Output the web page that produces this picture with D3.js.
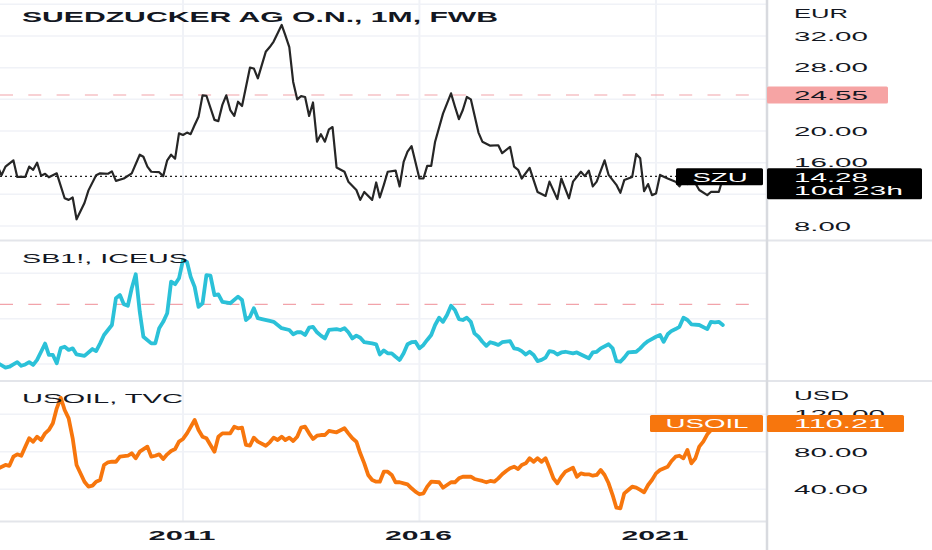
<!DOCTYPE html>
<html>
<head>
<meta charset="utf-8">
<script src="https://cdn.jsdelivr.net/npm/d3@7"></script>
<style>
  body { margin: 0; background: #fff; }
  svg { display: block; }
  text { font-family: "Liberation Sans", Arial, sans-serif; fill: #131722; }
</style>
</head>
<body>
<svg id="chart" width="932" height="550"></svg>
<script>
// months are counted from Jan 2007 (0 = 2007-01)
var startMonth = new Date(2007, 0, 1)
var yearTicks = [2011, 2016, 2021]

// SZU monthly close, EUR  [month, value]
var szuData = [[0,14.8],[1,15.5],[2,14.4],[3,15.5],[5,16.3],[6,14.2],[8,14.2],[9,15.5],[10,15.1],[11,16.0],[12,14.35],[13,14.6],[14,14.15],[16,14.65],[18,11.5],[19,11.3],[20,11.6],[21,8.85],[23,10.9],[24,12.5],[26,14.4],[27,14.65],[29,14.6],[30,14.9],[31,13.7],[33,14.0],[35,14.65],[37,17.0],[38,16.75],[39,15.5],[40,14.85],[42,14.8],[43,14.3],[44,16.3],[45,17.0],[46,16.5],[47,19.7],[48,19.5],[49,19.8],[50,19.6],[51,20.75],[52,21.8],[53,24.5],[54,24.45],[56,21.4],[57,21.25],[58,23.3],[59,24.5],[60,22.65],[61,21.9],[62,23.7],[63,23.15],[65,28.0],[66,27.9],[67,26.65],[69,30.0],[70,30.6],[71,31.3],[73,33.4],[74,32.1],[75,30.6],[76,26.2],[77,24.0],[78,24.4],[79,24.3],[80,21.9],[81,23.6],[82,18.65],[83,19.6],[84,18.65],[85,20.2],[86,20.5],[87,15.4],[89,14.85],[90,13.6],[92,12.55],[93,11.3],[94,12.3],[96,11.3],[97,13.5],[98,11.6],[99,13.2],[100,14.85],[102,15.0],[103,13.0],[104,16.1],[105,17.4],[106,18.1],[108,14.0],[109,14.0],[110,15.6],[111,15.6],[112,18.65],[114,22.2],[116,24.75],[117,23.1],[118,21.5],[119,22.65],[120,24.3],[121,24.0],[123,19.8],[124,18.65],[126,18.15],[128,18.2],[129,17.2],[131,18.0],[132,15.5],[133,15.1],[134,14.0],[136,15.35],[137,13.8],[138,12.3],[140,11.8],[141,13.6],[143,11.4],[144,14.0],[146,11.5],[147,13.6],[149,14.85],[150,14.3],[151,15.0],[152,13.0],[153,13.6],[155,16.3],[156,14.45],[158,13.2],[159,12.2],[160,13.8],[162,14.2],[163,17.1],[164,16.55],[165,12.4],[166,13.3],[167,11.9],[168,12.1],[169,14.45],[171,14.0],[173,13.6],[174,13.0],[175,13.8],[176,13.3],[177,14.0],[178,13.4],[179,12.55],[181,11.9],[182,12.3],[184,12.3],[185,14.0]]

// SB1! sugar futures, US cents/lb
var sb1Data = [[0,10.5],[1,10.2],[3,9.2],[4,9.4],[5,9.9],[6,10.4],[7,9.6],[8,9.9],[9,10.4],[10,9.8],[11,10.9],[12,12.7],[13,14.5],[14,12.0],[15,12.0],[16,10.15],[17,13.5],[18,13.8],[19,13.1],[20,13.45],[21,12.1],[23,11.8],[25,13.3],[26,12.85],[27,14.55],[28,16.4],[30,18.6],[31,24.5],[32,25.2],[33,23.2],[34,22.85],[35,26.7],[36,29.8],[37,21.5],[38,16.0],[40,14.55],[41,14.55],[42,17.9],[43,19.3],[44,21.2],[45,28.15],[46,27.6],[47,28.9],[48,32.9],[49,32.5],[50,29.25],[51,27.0],[52,22.6],[53,23.4],[54,29.6],[55,29.5],[56,25.2],[57,25.35],[58,23.7],[60,23.4],[62,24.85],[63,24.1],[64,19.7],[65,20.4],[66,22.3],[67,20.1],[68,19.9],[70,19.5],[71,19.3],[72,18.6],[73,17.9],[75,17.5],[76,16.55],[77,17.0],[78,17.0],[79,16.4],[80,18.0],[81,18.2],[82,17.0],[83,16.25],[84,15.65],[85,17.5],[87,17.7],[88,17.5],[89,17.9],[90,17.0],[91,15.65],[92,16.25],[93,15.8],[94,14.8],[96,14.55],[97,14.35],[98,12.1],[99,13.0],[100,12.35],[101,12.35],[102,11.6],[103,10.9],[104,12.35],[105,14.35],[106,14.8],[107,14.9],[108,13.45],[109,14.2],[110,15.3],[111,16.4],[112,18.6],[113,20.2],[114,19.3],[115,20.8],[116,22.85],[117,21.9],[118,19.9],[119,19.7],[120,20.2],[121,19.3],[122,16.75],[123,16.0],[124,14.9],[125,14.0],[126,14.8],[127,14.55],[128,14.2],[129,14.8],[131,15.05],[132,13.45],[133,13.3],[134,12.85],[135,12.1],[136,12.7],[137,12.0],[138,10.65],[139,10.9],[140,11.4],[141,12.85],[142,12.7],[143,12.1],[144,12.55],[145,12.7],[147,12.35],[148,12.55],[149,12.1],[151,11.25],[152,12.55],[153,12.7],[154,13.45],[156,14.35],[157,13.45],[158,10.65],[159,10.5],[160,11.4],[161,12.55],[163,12.7],[164,13.45],[165,14.35],[166,15.05],[168,16.0],[169,16.4],[170,14.9],[171,16.55],[172,17.3],[173,17.7],[174,18.2],[175,20.2],[176,19.7],[177,18.75],[179,18.6],[181,17.7],[182,19.3],[183,19.2],[184,19.3],[185,18.6]]

// USOIL (WTI), USD
var oilData = [[0,58],[1,62],[3,66],[4,65],[5,74.8],[6,77.3],[7,75.8],[8,85.5],[9,94.4],[10,90.8],[11,96.1],[12,92.6],[13,99.7],[14,103.3],[15,110.4],[16,126.4],[17,137.7],[18,124.6],[19,115.7],[20,94.4],[21,65.9],[23,48.1],[24,42.8],[25,43.9],[26,48.1],[27,49.9],[28,65.9],[29,68.8],[30,69.4],[31,69.4],[32,74.8],[34,75.8],[35,78.4],[36,73.1],[37,80.1],[39,85.5],[40,74.8],[41,75.8],[42,77.3],[43,72.3],[44,77.3],[45,80.9],[46,83.0],[47,90.8],[48,93.7],[49,99.7],[51,113.9],[52,103.3],[53,96.1],[54,94.4],[55,87.3],[56,80.1],[57,96.1],[58,99.7],[60,99.7],[61,106.8],[62,105.1],[63,105.7],[64,87.3],[65,86.5],[66,95.1],[67,90.8],[69,86.5],[70,90.1],[71,95.1],[72,92.6],[73,96.1],[74,92.6],[75,95.1],[76,91.5],[77,96.1],[78,105.7],[79,106.8],[80,99.7],[81,93.7],[82,97.2],[83,97.9],[84,97.9],[85,102.2],[86,101.5],[87,100.8],[89,105.1],[90,99.7],[91,94.4],[92,90.8],[93,78.4],[94,67.7],[95,55.3],[96,49.9],[97,48.1],[98,48.1],[99,58.8],[100,58.8],[101,55.3],[102,47.5],[103,47.5],[104,46.4],[105,45.3],[106,41.1],[107,37.5],[108,34.7],[109,35.7],[110,42.8],[111,48.1],[113,47.5],[114,41.7],[115,44.6],[116,47.5],[117,47.5],[118,51.7],[119,53.4],[120,53.4],[121,53.4],[122,51.0],[123,49.9],[124,48.9],[125,47.5],[126,48.9],[127,48.1],[128,51.7],[129,56.0],[130,59.5],[131,62.5],[132,64.1],[133,61.6],[134,65.9],[135,67.7],[136,73.1],[137,69.4],[138,73.1],[139,69.4],[140,73.1],[141,63.0],[142,51.7],[143,46.4],[144,53.4],[145,58.8],[147,63.0],[148,53.4],[149,57.0],[150,56.0],[151,56.0],[152,54.5],[153,55.3],[154,60.6],[155,55.3],[156,46.4],[157,33.9],[158,20.4],[159,19.7],[160,35.7],[161,39.3],[162,42.8],[163,41.7],[164,39.3],[165,36.8],[166,44.6],[167,49.9],[168,57.0],[169,60.6],[171,64.1],[172,70.2],[173,74.8],[174,75.8],[175,73.1],[176,82.0],[177,67.7],[178,73.1],[179,85.5],[180,90.8],[181,98.6],[182,103.0],[183,106.0],[184,104.0],[185,110.21]]

// axis ticks and levels
var szuTicks = [8, 12, 16, 20, 24, 28, 32, 36]
var szuTickLabels = [8, 16, 20, 28, 32]   // 12 and 24 sit under the price labels
var sb1Ticks = [10, 20, 30]
var oilTicks = [40, 80, 120]
var szuLast = 14.28
var szuLevel = 24.55
var sb1Level = 23.15
var oilLast = 110.21
var szuCountdown = "10d 23h"

var svg = d3.select("#chart")

//layout
var plotRight = 767
var panels = {
    szu: {top: 0, bottom: 240},
    sb1: {top: 241, bottom: 381},
    oil: {top: 381, bottom: 521}
}

//colors
var gridColor = "#f0f2f7"
var sepColor = "#e3e5ea"
var szuColor = "#262626"
var sb1Color = "#2bc1d8"
var oilColor = "#f7760d"
var levelColor = "#f2a3aa"

//scales
var x = d3.scaleTime()
          .domain([new Date(2011, 0, 1), new Date(2021, 0, 1)])
          .range([183, 656])
var ySzu = d3.scaleLinear().domain([8, 32]).range([226, 36])
var ySb1 = d3.scaleLinear().domain([10, 30]).range([364, 273.3])
var yOil = d3.scaleLinear().domain([40, 120]).range([489.3, 414.3])

var monthDate = m => d3.timeMonth.offset(startMonth, m)

//stretched text helper (the reference type is very wide)
function wideText(g, str, xPos, yPos, len, size, weight, color, anchor) {
    return g.append("text")
            .attr("x", xPos)
            .attr("y", yPos)
            .attr("font-size", size)
            .attr("font-weight", weight || "normal")
            .attr("textLength", len)
            .attr("lengthAdjust", "spacingAndGlyphs")
            .attr("text-anchor", anchor || "start")
            .style("fill", color || "#131722")
            .text(str)
}
var numWidth = s => s.replace(/[^0-9]/g, "").length * 17 + (s.indexOf(".") >= 0 ? 6 : 0)

//clip paths for each pane
var defs = svg.append("defs")
Object.keys(panels).forEach(k => {
    defs.append("clipPath").attr("id", "clip-" + k)
        .append("rect")
        .attr("x", 0).attr("y", panels[k].top)
        .attr("width", plotRight).attr("height", panels[k].bottom - panels[k].top)
})

//grid
var grid = svg.append("g")
grid.selectAll(".vgrid")
    .data(yearTicks)
    .enter()
    .append("line")
    .attr("x1", d => x(new Date(d, 0, 1)))
    .attr("x2", d => x(new Date(d, 0, 1)))
    .attr("y1", 0)
    .attr("y2", panels.oil.bottom)
    .attr("stroke", gridColor)
    .attr("stroke-width", 2)

function hGrid(ticks, scale) {
    grid.append("g").selectAll("line")
        .data(ticks)
        .enter()
        .append("line")
        .attr("x1", 0).attr("x2", plotRight)
        .attr("y1", d => scale(d)).attr("y2", d => scale(d))
        .attr("stroke", gridColor)
        .attr("stroke-width", 1.5)
}
hGrid(szuTicks, ySzu)
hGrid(sb1Ticks, ySb1)
hGrid(oilTicks, yOil)

//pane separators
svg.append("g").selectAll("line")
   .data([panels.sb1.top - 0.5, panels.oil.top])
   .enter()
   .append("line")
   .attr("x1", 0).attr("x2", 932)
   .attr("y1", d => d).attr("y2", d => d)
   .attr("stroke", sepColor)
   .attr("stroke-width", 2)
svg.append("line")
   .attr("x1", 0).attr("x2", plotRight)
   .attr("y1", panels.oil.bottom + 0.5).attr("y2", panels.oil.bottom + 0.5)
   .attr("stroke", sepColor).attr("stroke-width", 2)
svg.append("line")
   .attr("x1", plotRight).attr("x2", plotRight)
   .attr("y1", 0).attr("y2", 550)
   .attr("stroke", "#d8dadf").attr("stroke-width", 2.5)

//horizontal level lines
svg.append("line")
   .attr("x1", 0).attr("x2", 756)
   .attr("y1", ySzu(szuLevel)).attr("y2", ySzu(szuLevel))
   .attr("stroke", levelColor).attr("stroke-width", 1.2)
   .attr("stroke-dasharray", "13,15.3")
svg.append("line")
   .attr("x1", 0).attr("x2", 756)
   .attr("y1", ySb1(sb1Level)).attr("y2", ySb1(sb1Level))
   .attr("stroke", levelColor).attr("stroke-width", 1.2)
   .attr("stroke-dasharray", "13,15.3")
svg.append("line")
   .attr("x1", 0).attr("x2", 680)
   .attr("y1", ySzu(szuLast)).attr("y2", ySzu(szuLast))
   .attr("stroke", "#222").attr("stroke-width", 1.2)
   .attr("stroke-dasharray", "2,3")

//series lines
function drawSeries(data, scale, color, width, key) {
    var line = d3.line()
                 .x(d => x(monthDate(d[0])))
                 .y(d => scale(d[1]))
    svg.append("path")
       .datum(data)
       .attr("clip-path", "url(#clip-" + key + ")")
       .attr("d", line)
       .attr("fill", "none")
       .attr("stroke", color)
       .attr("stroke-width", width)
       .attr("stroke-linejoin", "round")
       .attr("stroke-linecap", "round")
}
drawSeries(szuData, ySzu, szuColor, 2.2, "szu")
drawSeries(sb1Data, ySb1, sb1Color, 3.8, "sb1")
drawSeries(oilData, yOil, oilColor, 3.8, "oil")

//price axis labels
var axisG = svg.append("g")
wideText(axisG, "EUR", 794, 18.3, 54, 13)
szuTickLabels.forEach(d => {
    var s = d3.format(".2f")(d)
    wideText(axisG, s, 794, ySzu(d) + 4.7, numWidth(s), 13)
})
wideText(axisG, "USD", 794, 400, 55, 13)
oilTicks.forEach(d => {
    var s = d3.format(".2f")(d)
    wideText(axisG, s, 794, yOil(d) + 4.7, numWidth(s), 13)
})

//time axis labels
yearTicks.forEach(d => {
    wideText(svg, String(d), x(new Date(d, 0, 1)) - 1, 540, 67, 12, "bold", "#131722", "middle")
})

//level label 24.55
var ly = ySzu(szuLevel)
svg.append("rect")
   .attr("x", 767).attr("y", ly - 8.5)
   .attr("width", 121).attr("height", 17)
   .attr("rx", 1.5)
   .attr("fill", "#f6a4a4")
wideText(svg, d3.format(".2f")(szuLevel), 794, ly + 5, numWidth("24.55"), 13)

//SZU last price labels
var sy = ySzu(szuLast)
svg.append("rect")
   .attr("x", 676).attr("y", sy - 8)
   .attr("width", 87).attr("height", 17)
   .attr("rx", 1.5)
   .attr("fill", "#000")
wideText(svg, "SZU", 720, sy + 5.3, 55, 13, "normal", "#fff", "middle")
svg.append("rect")
   .attr("x", 767).attr("y", sy - 8)
   .attr("width", 155).attr("height", 31)
   .attr("rx", 1.5)
   .attr("fill", "#000")
wideText(svg, d3.format(".2f")(szuLast), 794, sy + 5.3, numWidth("14.28"), 13, "normal", "#fff")
wideText(svg, szuCountdown, 794, sy + 18.8, 109, 13, "normal", "#fff")

//USOIL last price labels
var oy = yOil(oilLast)
svg.append("rect")
   .attr("x", 650).attr("y", oy - 8.5)
   .attr("width", 113).attr("height", 17)
   .attr("rx", 1.5)
   .attr("fill", oilColor)
wideText(svg, "USOIL", 707, oy + 5, 83, 13, "normal", "#fff", "middle")
svg.append("rect")
   .attr("x", 767).attr("y", oy - 8.5)
   .attr("width", 137).attr("height", 17)
   .attr("rx", 1.5)
   .attr("fill", oilColor)
wideText(svg, d3.format(".2f")(oilLast), 794, oy + 5, numWidth("110.21"), 13, "normal", "#fff")

//pane titles
wideText(svg, "SUEDZUCKER AG O.N., 1M, FWB", 22, 21.7, 476, 14, "bold")
wideText(svg, "SB1!, ICEUS", 22, 262.7, 166, 13.5)
wideText(svg, "USOIL, TVC", 22, 403.3, 161, 13.5)
</script>
</body>
</html>
